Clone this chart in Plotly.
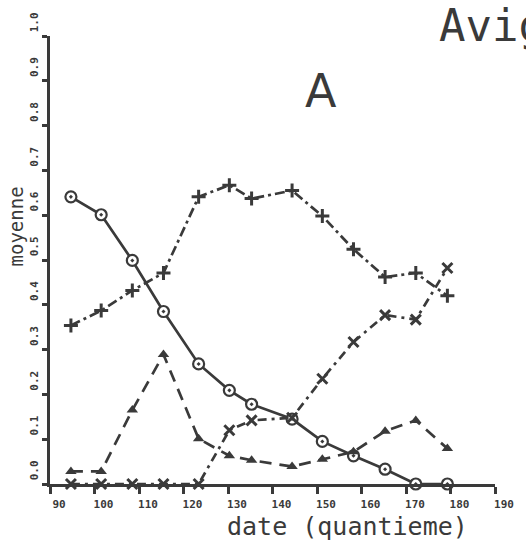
import plotly.graph_objects as go

# Sampling dates (day of year) shared by the four series
dates = [94.7, 101.5, 108.5, 115.5, 123.4, 130.3, 135.3, 144.4, 151.2, 158.2, 165.3, 172.2, 179.3]

# Mean proportions per series
serie_cercles = [0.641, 0.601, 0.499, 0.385, 0.268, 0.209, 0.178, 0.145, 0.095, 0.063, 0.033, 0.0, 0.0]
serie_plus = [0.354, 0.387, 0.432, 0.471, 0.641, 0.667, 0.637, 0.655, 0.598, 0.524, 0.462, 0.471, 0.420]
serie_croix = [0.0, 0.0, 0.0, 0.0, 0.0, 0.120, 0.142, 0.148, 0.235, 0.317, 0.377, 0.367, 0.482]
serie_triangles = [0.028, 0.028, 0.165, 0.289, 0.101, 0.063, 0.053, 0.039, 0.055, 0.072, 0.118, 0.142, 0.079]

x_ticks = list(range(90, 191, 10))
y_ticks = [i / 10 for i in range(11)]
y_ticktext = [f"{v:.1f}" for v in y_ticks]

INK = "#3a3a3a"
MONO = "DejaVu Sans Mono"

fig = go.Figure()

fig.add_trace(go.Scatter(
    x=dates, y=serie_cercles, mode="lines+markers", cliponaxis=False,
    line=dict(color=INK, width=2.7),
    marker=dict(symbol="circle-dot", size=11, color="white", line=dict(color=INK, width=2.2)),
))
fig.add_trace(go.Scatter(
    x=dates, y=serie_plus, mode="lines+markers", cliponaxis=False,
    line=dict(color=INK, width=2.7, dash="10px,4px,3px,4px"),
    marker=dict(symbol="cross-thin", size=10, line=dict(color=INK, width=3)),
))
fig.add_trace(go.Scatter(
    x=dates, y=serie_croix, mode="lines+markers", cliponaxis=False,
    line=dict(color=INK, width=2.7, dash="9px,5px,3px,5px"),
    marker=dict(symbol="x-thin", size=10, line=dict(color=INK, width=3)),
))
fig.add_trace(go.Scatter(
    x=dates, y=serie_triangles, mode="lines+markers", cliponaxis=False,
    line=dict(color=INK, width=2.7, dash="12px,8px"),
    marker=dict(symbol="triangle-up", size=10, color=INK),
))

tickfont = dict(family=MONO, size=11, color=INK, weight="bold")

fig.update_xaxes(
    range=[90, 190], tickvals=x_ticks, showgrid=False, zeroline=False,
    showline=True, linecolor=INK, linewidth=2.5,
    ticks="outside", ticklen=7, tickwidth=2.5, tickcolor=INK,
    tickfont=tickfont, ticklabelshift=9, ticklabelstandoff=1,
)
fig.update_yaxes(
    range=[0, 1], tickvals=y_ticks, ticktext=y_ticktext, tickangle=-90,
    showgrid=False, zeroline=False,
    showline=True, linecolor=INK, linewidth=2.5,
    ticks="outside", ticklen=5, tickwidth=2.5, tickcolor=INK,
    tickfont=tickfont, ticklabelshift=-12, ticklabelstandoff=0,
)

fig.add_annotation(
    text="date (quantieme)", xref="paper", yref="paper", x=0.669, y=(484 - 527) / 455,
    xanchor="center", yanchor="middle", showarrow=False,
    font=dict(family=MONO, size=25, color=INK),
)
fig.add_annotation(
    text="moyenne", xref="paper", yref="paper", x=(16 - 50) / 451, y=(484 - 222) / 455,
    textangle=-90, xanchor="center", yanchor="middle", showarrow=False,
    font=dict(family=MONO, size=19, color=INK),
)
fig.add_annotation(
    text="A", xref="paper", yref="paper", x=(325 - 50) / 451, y=(484 - 85) / 455,
    xanchor="center", yanchor="middle", showarrow=False,
    font=dict(family="DejaVu Sans", size=46, color=INK),
)
fig.add_annotation(
    text="Avignon", xref="paper", yref="paper", x=(442 - 50) / 451, y=(484 - 18) / 455,
    xanchor="left", yanchor="middle", showarrow=False,
    font=dict(family=MONO, size=44, color=INK),
)

fig.update_layout(
    width=526, height=546,
    margin=dict(l=50, r=25, t=29, b=62),
    plot_bgcolor="white", paper_bgcolor="white",
    showlegend=False,
)

fig.write_html("out.html")
